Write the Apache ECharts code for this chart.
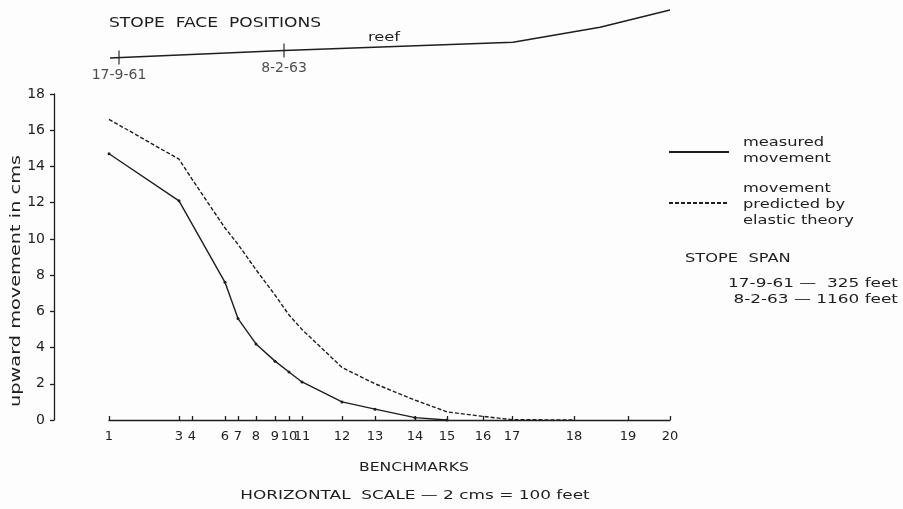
<!DOCTYPE html>
<html>
<head>
<meta charset="utf-8">
<script src="https://cdn.jsdelivr.net/npm/echarts@6/dist/echarts.min.js"></script>
<style>
  html, body { margin: 0; padding: 0; background: #fdfdfd; }
  #chart { width: 903px; height: 509px; }
</style>
</head>
<body>
<div id="chart"></div>
<script>
// benchmark numbers and their position along the section (drawing units, 0 = first benchmark)
const benchmarks = [1, 3, 4, 6, 7, 8, 9, 10, 11, 12, 13, 14, 15, 16, 17, 18, 19, 20];
const positions  = [0, 70, 83, 116, 129, 147, 166, 180, 193, 233, 266, 306, 338, 374, 403, 465, 519, 561];

// upward movement in cms
const measured  = [14.7, 12.1, null, 7.6, 5.6, 4.2, 3.25, 2.65, 2.1, 1.0, 0.6, 0.13, 0, null, null, null, null, null];
const predicted = [16.6, 14.4, 13.3, 10.6, 9.7, 8.3, 6.9, 5.8, 5.0, 2.9, 2.0, 1.1, 0.45, 0.2, 0.02, 0, null, null];

// stope face / reef profile above the chart
const reefX = [1, 175, 404, 491, 561];
const reefY = [2, 9.5, 17.7, 32.7, 50];
const faceX = [10, 175];
const faceY = [2.4, 9.5];
const faceDates = ['17-9-61', '8-2-63'];

const ink = '#1e1e1e';
const font = 'DejaVu Sans';

const chart = echarts.init(document.getElementById('chart'));

const pair = (xs, ys) => xs.map((x, i) => [x, ys[i]]);

// stretched lettering like the stencilled original
const label = (text, x, y, opts = {}) => ({
  type: 'text',
  x: x,
  y: y,
  scaleX: opts.scaleX || 1.25,
  rotation: opts.rotation || 0,
  style: {
    text: text,
    fontFamily: font,
    fontSize: opts.size || 13,
    fill: ink,
    align: opts.align || 'left',
    verticalAlign: 'middle'
  }
});

chart.setOption({
  backgroundColor: '#fdfdfd',
  animation: false,
  textStyle: { fontFamily: font, color: ink },
  legend: {
    orient: 'vertical',
    left: 668,
    top: 147,
    padding: 0,
    itemWidth: 60,
    itemHeight: 10,
    itemGap: 42,
    data: ['measured', 'predicted'],
    itemStyle: { opacity: 0 },
    formatter: () => ''
  },
  grid: [
    { left: 109, right: 233, top: 94, bottom: 89 },
    { left: 109, right: 233, top: 0, height: 60 }
  ],
  xAxis: [
    {
      type: 'value',
      gridIndex: 0,
      min: 0,
      max: 561,
      splitLine: { show: false },
      axisLine: { lineStyle: { color: ink, width: 1.3 } },
      axisTick: {
        inside: true,
        length: 4,
        customValues: positions,
        lineStyle: { color: ink, width: 1.3 }
      },
      axisLabel: {
        customValues: positions,
        margin: 10,
        fontSize: 13,
        color: ink,
        formatter: v => {
          const i = positions.indexOf(v);
          return i >= 0 ? String(benchmarks[i]) : '';
        }
      }
    },
    { type: 'value', gridIndex: 1, min: 0, max: 561, show: false }
  ],
  yAxis: [
    {
      type: 'value',
      gridIndex: 0,
      min: 0,
      max: 18,
      interval: 2,
      offset: 55,
      splitLine: { show: false },
      axisLine: { show: true, onZero: false, lineStyle: { color: ink, width: 1.3 } },
      axisTick: { show: true, length: 4, lineStyle: { color: ink, width: 1.3 } },
      axisLabel: { fontSize: 14, color: ink, margin: 9 }
    },
    { type: 'value', gridIndex: 1, min: 0, max: 60, show: false }
  ],
  series: [
    {
      name: 'measured',
      type: 'line',
      xAxisIndex: 0,
      yAxisIndex: 0,
      data: pair(positions, measured),
      connectNulls: true,
      symbol: 'circle',
      symbolSize: 3,
      itemStyle: { color: ink },
      lineStyle: { color: ink, width: 1.4 }
    },
    {
      name: 'predicted',
      type: 'line',
      xAxisIndex: 0,
      yAxisIndex: 0,
      data: pair(positions, predicted),
      symbol: 'none',
      itemStyle: { color: ink },
      lineStyle: { color: ink, width: 1.4, type: [4, 2] }
    },
    {
      name: 'reef',
      type: 'line',
      xAxisIndex: 1,
      yAxisIndex: 1,
      data: pair(reefX, reefY),
      symbol: 'none',
      clip: false,
      lineStyle: { color: ink, width: 1.4 }
    },
    {
      name: 'faces',
      type: 'scatter',
      xAxisIndex: 1,
      yAxisIndex: 1,
      data: pair(faceX, faceY),
      symbol: 'rect',
      symbolSize: [1.4, 14],
      itemStyle: { color: ink },
      label: {
        show: true,
        position: 'bottom',
        distance: 4,
        fontSize: 14,
        color: ink,
        formatter: p => faceDates[p.dataIndex]
      }
    }
  ],
  graphic: [
    label('STOPE  FACE  POSITIONS', 109, 23, { size: 14, scaleX: 1.22 }),
    label('reef', 368, 38),
    label('upward movement in cms', 16, 281, { size: 14, scaleX: 1.38, rotation: Math.PI / 2, align: 'center' }),
    label('BENCHMARKS', 414, 468, { align: 'center', scaleX: 1.2 }),
    label('HORIZONTAL  SCALE — 2 cms = 100 feet', 415, 496, { align: 'center', scaleX: 1.3 }),
    label('measured', 743, 143),
    label('movement', 743, 159),
    label('movement', 743, 189),
    label('predicted by', 743, 205),
    label('elastic theory', 743, 221),
    label('STOPE  SPAN', 685, 259),
    label('17-9-61 —  325 feet', 898, 284, { align: 'right', scaleX: 1.3 }),
    label('8-2-63 — 1160 feet', 898, 300, { align: 'right', scaleX: 1.3 })
  ]
});
</script>
</body>
</html>
